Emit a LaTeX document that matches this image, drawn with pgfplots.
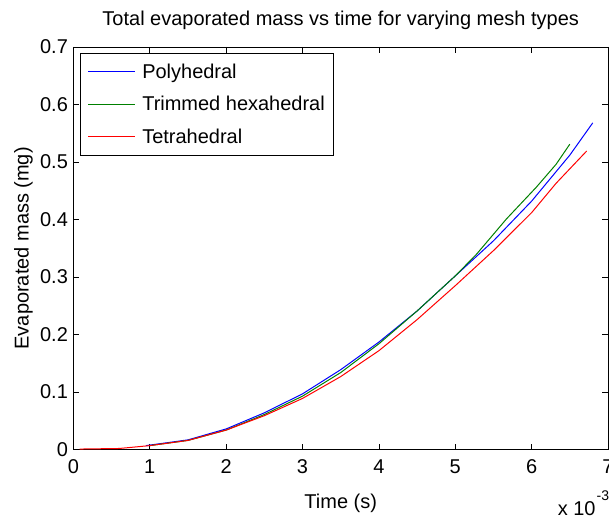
\documentclass[border=0pt]{standalone}
\usepackage{pgfplots}
\pgfplotsset{compat=1.18}
\usepackage{fontspec}
\setmainfont{Liberation Sans}
\newcommand{\fs}{\fontsize{20}{24}\selectfont}
\definecolor{mblue}{rgb}{0,0,1}
\definecolor{mgreen}{rgb}{0,0.5,0}
\definecolor{mred}{rgb}{1,0,0}
\begin{document}
\begin{tikzpicture}
\begin{axis}[
  scale only axis,
  width=535pt, height=403pt,
  xmin=0, xmax=7, ymin=0, ymax=0.7,
  xtick={0,1,2,3,4,5,6,7},
  ytick={0,0.1,0.2,0.3,0.4,0.5,0.6,0.7},
  yticklabels={0,0.1,0.2,0.3,0.4,0.5,0.6,0.7},
  scaled ticks=false,
  tick align=inside,
  major tick length=6pt,
  tick style={black, line width=0.8pt},
  axis line style={black, line width=0.8pt},
  /pgf/number format/assume math mode=true,
  tick label style={font=\fs},
  xticklabel style={anchor=base, yshift=-24pt},
  yticklabel style={anchor=east, xshift=-2pt},
  title={Total evaporated mass vs time for varying mesh types},
  title style={font=\fs, at={(axis description cs:0.5,1)}, anchor=base, yshift=15.3pt},
  xlabel={Time (s)},
  xlabel style={font=\fs, at={(axis description cs:0.5,0)}, anchor=base, yshift=-59pt},
  ylabel={Evaporated mass (mg)},
  ylabel style={font=\fs, at={(axis description cs:-0.0935,0.5)}, anchor=center},
  legend style={at={(axis description cs:0,1)}, anchor=north west, xshift=7pt, yshift=-6pt,
    draw=black, line width=0.8pt, font=\fs, inner ysep=8.5pt, inner xsep=7pt,
    row sep=12.5pt, column sep=4.5pt, cells={anchor=west}},
  legend image code/.code={\draw[#1, line width=1pt] (0pt,0pt) -- (47pt,0pt);},
  legend cell align=left,
]
\addplot[mblue, line width=1pt] coordinates {
(0.95,0.007) (1.5,0.017) (2.0,0.036) (2.5,0.064) (3.0,0.097) (3.5,0.139)
(4.0,0.187) (4.5,0.241) (5.0,0.302) (5.5,0.363) (6.0,0.432) (6.5,0.512) (6.8,0.568)};
\addlegendentry{Polyhedral}
\addplot[mgreen, line width=1pt] coordinates {
(1.0,0.007) (1.5,0.016) (2.0,0.034) (2.5,0.061) (3.0,0.093) (3.5,0.134)
(4.0,0.184) (4.5,0.241) (5.0,0.302) (5.28,0.340) (5.67,0.401) (6.06,0.456)
(6.32,0.496) (6.50,0.531)};
\addlegendentry{Trimmed hexahedral}
\addplot[mred, line width=1pt] coordinates {
(0.08,0.001) (0.6,0.002) (1.0,0.007) (1.5,0.016) (2.0,0.034) (2.5,0.059)
(3.0,0.089) (3.5,0.127) (4.0,0.172) (4.5,0.226) (5.0,0.285) (5.5,0.346)
(6.0,0.412) (6.32,0.463) (6.72,0.519)};
\addlegendentry{Tetrahedral}
\coordinate (SW) at (rel axis cs:0,0);
\coordinate (NE) at (rel axis cs:1,1);
\end{axis}
\node[font=\fs, anchor=base west, inner sep=0pt] at ([xshift=484.5pt, yshift=-66pt]SW) {x 10};
\node[font=\fontsize{14}{16}\selectfont, anchor=base west, inner sep=0pt] at ([xshift=523.5pt, yshift=-51pt]SW) {-3};
\pgfresetboundingbox
\useasboundingbox ([xshift=-73.5pt, yshift=-69pt]SW) rectangle ([xshift=1pt, yshift=47pt]NE);
\end{tikzpicture}
\end{document}
